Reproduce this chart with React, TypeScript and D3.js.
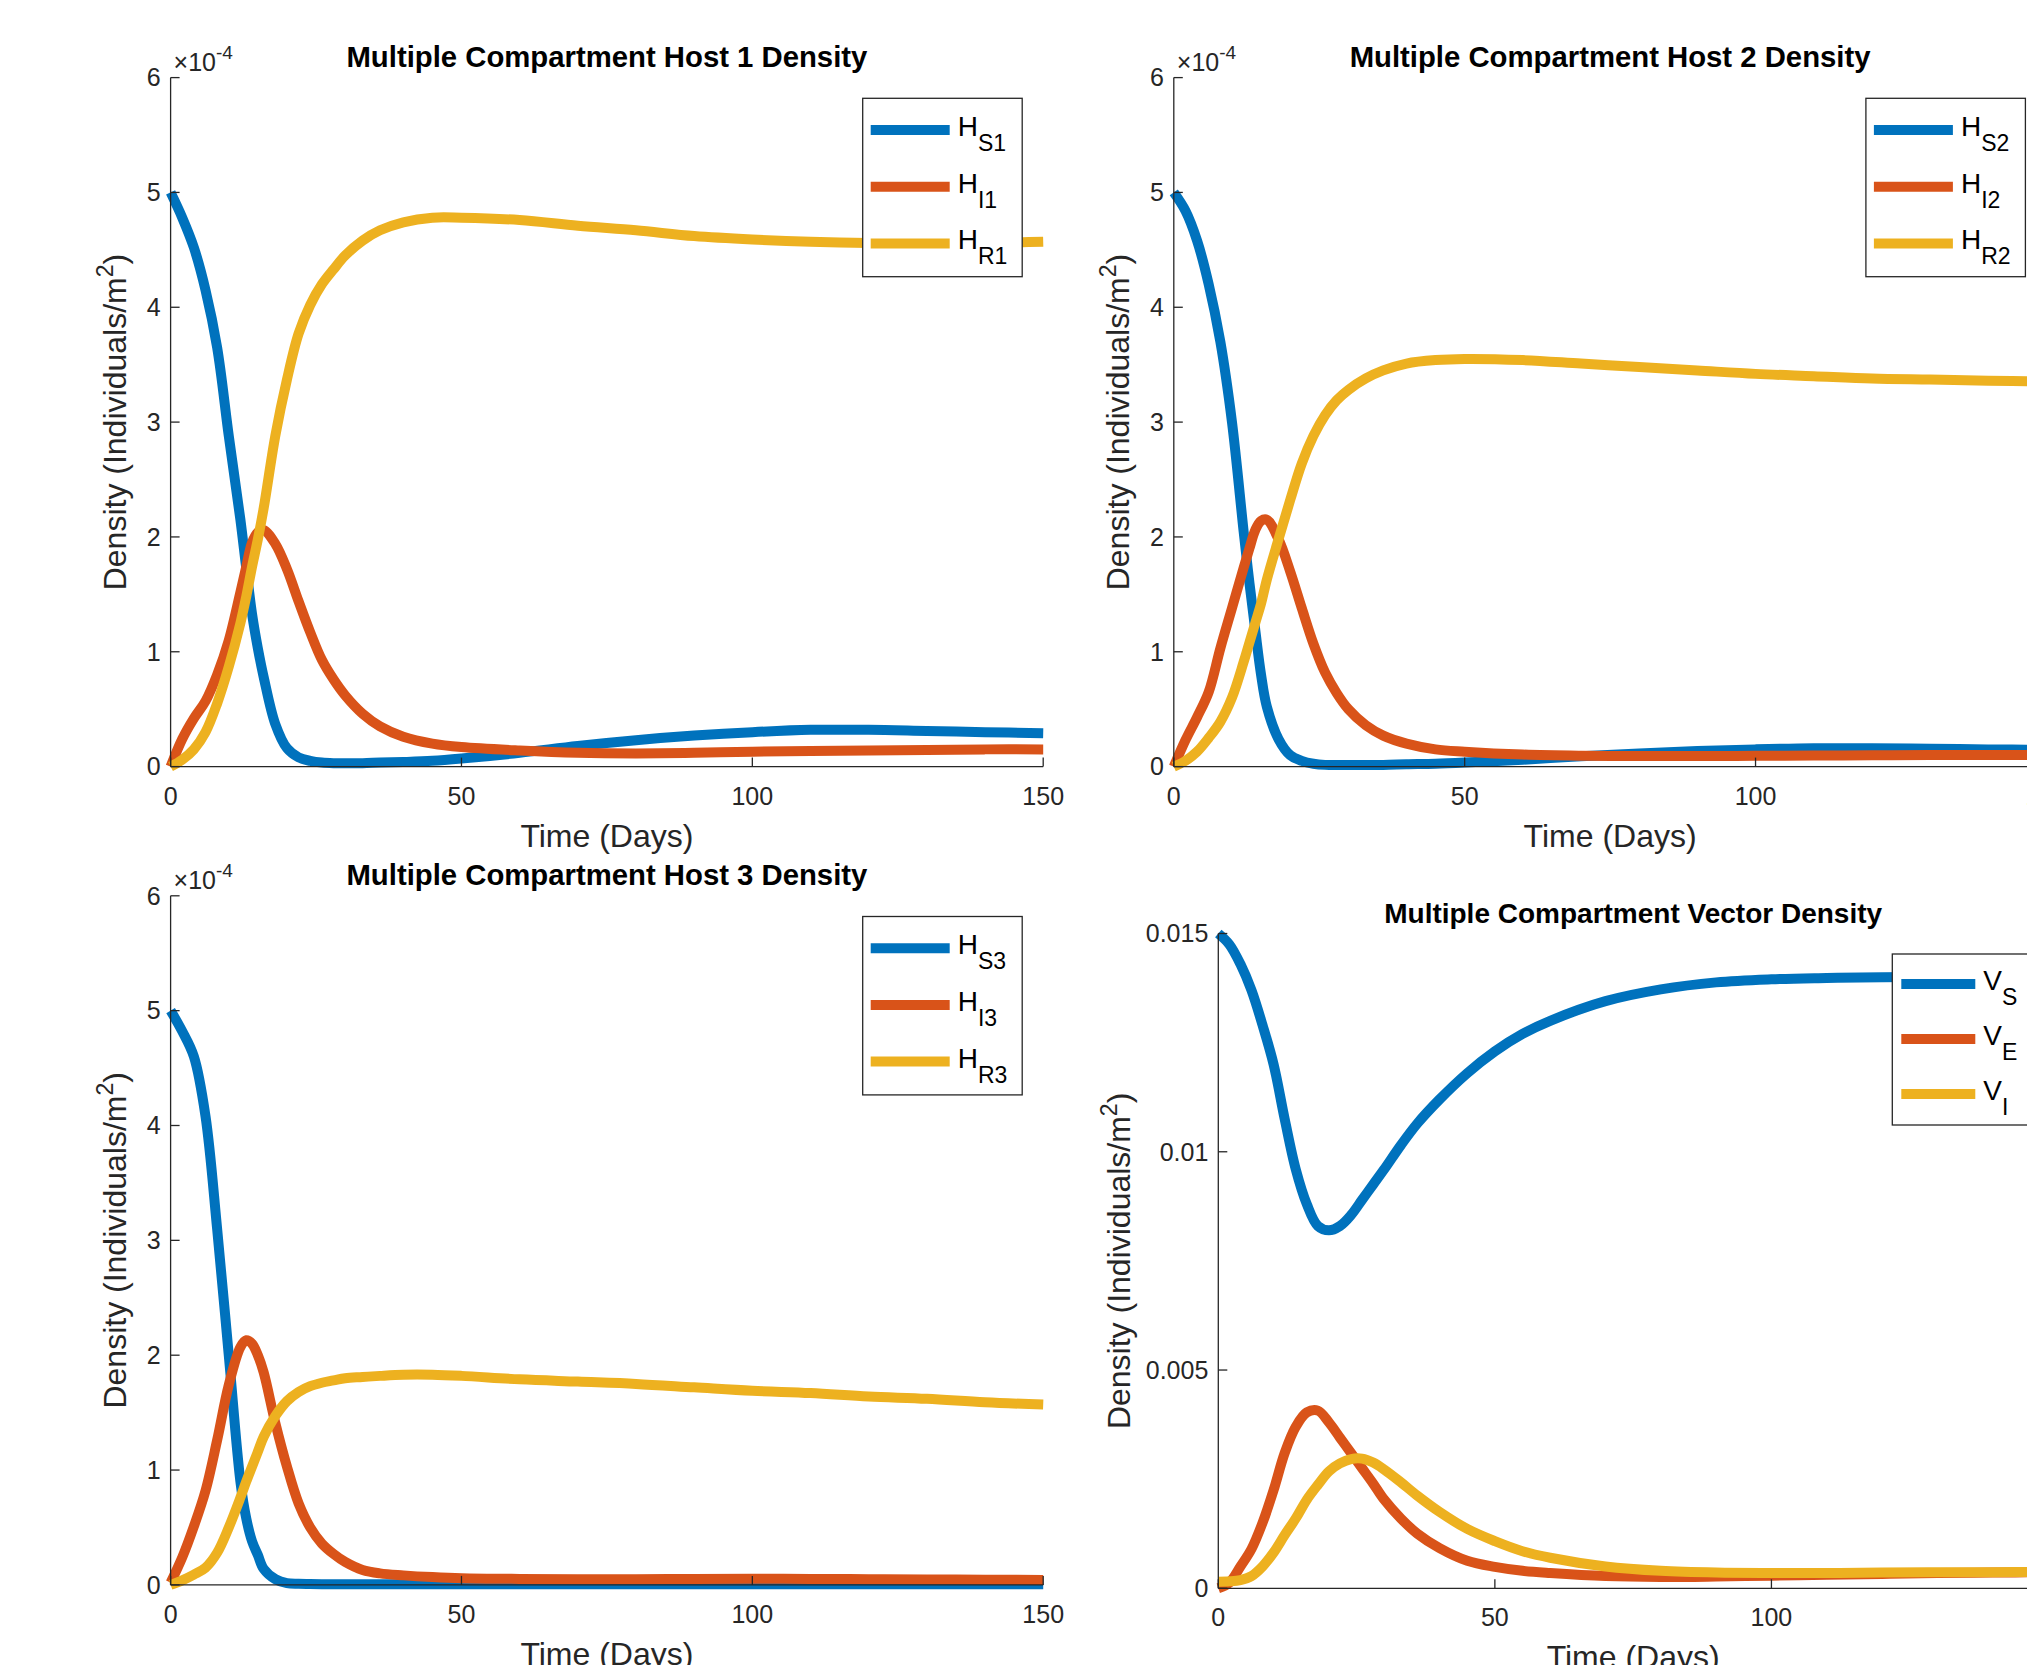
import React from 'react';
import * as d3 from 'd3';

const W = 2027;
const H = 1665;

const COLORS = ['#0072BD', '#D95319', '#EDB120'];
const AXIS = '#262626';
const FONT = '"Liberation Sans", Arial, Helvetica, sans-serif';

// time grids (days)
const hostDays = [0, 2, 4, 6, 8, 10, 12, 13, 14, 15, 16, 18, 20, 22, 24, 26, 28, 30, 33, 36, 40, 45, 50, 60, 70, 80, 90, 100, 110, 120, 130, 140, 150];
const vectorDays = [0, 2, 4, 6, 8, 10, 12, 14, 16, 18, 20, 22, 24, 26, 28, 30, 33, 36, 40, 45, 50, 55, 60, 70, 80, 90, 100, 110, 120, 130, 140, 150];

// host densities, in units of 1e-4 individuals/m^2
const hostS1 = [5.0, 4.78, 4.52, 4.15, 3.65, 2.88, 2.15, 1.73, 1.33, 1.03, 0.78, 0.37, 0.16, 0.08, 0.05, 0.035, 0.03, 0.03, 0.03, 0.035, 0.04, 0.05, 0.07, 0.12, 0.18, 0.23, 0.27, 0.3, 0.32, 0.32, 0.31, 0.3, 0.29];
const hostI1 = [0.0, 0.24, 0.42, 0.57, 0.8, 1.1, 1.52, 1.74, 1.95, 2.04, 2.06, 1.94, 1.72, 1.44, 1.17, 0.93, 0.76, 0.62, 0.46, 0.35, 0.26, 0.2, 0.17, 0.14, 0.12, 0.115, 0.12, 0.13, 0.135, 0.14, 0.145, 0.15, 0.15];
const hostR1 = [0.0, 0.06, 0.15, 0.3, 0.55, 0.87, 1.25, 1.48, 1.74, 1.98, 2.25, 2.88, 3.37, 3.77, 4.02, 4.2, 4.33, 4.45, 4.58, 4.67, 4.74, 4.78, 4.78, 4.76, 4.71, 4.67, 4.62, 4.59, 4.57, 4.56, 4.56, 4.56, 4.57];

const hostS2 = [5.0, 4.84, 4.58, 4.2, 3.7, 3.0, 2.05, 1.6, 1.19, 0.8, 0.52, 0.24, 0.1, 0.05, 0.025, 0.015, 0.015, 0.015, 0.015, 0.015, 0.02, 0.025, 0.035, 0.06, 0.09, 0.115, 0.135, 0.15, 0.16, 0.16, 0.155, 0.15, 0.145];
const hostI2 = [0.0, 0.23, 0.43, 0.65, 1.03, 1.38, 1.73, 1.9, 2.06, 2.14, 2.15, 1.98, 1.7, 1.38, 1.07, 0.82, 0.64, 0.5, 0.36, 0.27, 0.2, 0.15, 0.13, 0.105, 0.095, 0.092, 0.092, 0.094, 0.096, 0.098, 0.1, 0.1, 0.1];
const hostR2 = [0.0, 0.05, 0.13, 0.25, 0.39, 0.6, 0.91, 1.08, 1.25, 1.42, 1.63, 1.98, 2.32, 2.64, 2.88, 3.06, 3.19, 3.28, 3.38, 3.45, 3.51, 3.54, 3.55, 3.54, 3.51, 3.48, 3.45, 3.42, 3.4, 3.38, 3.37, 3.36, 3.355];

const hostS3 = [5.0, 4.82, 4.6, 4.08, 3.1, 2.0, 0.9, 0.58, 0.38, 0.26, 0.14, 0.05, 0.015, 0.01, 0.008, 0.006, 0.005, 0.005, 0.005, 0.005, 0.005, 0.005, 0.005, 0.005, 0.005, 0.005, 0.005, 0.005, 0.005, 0.005, 0.005, 0.005, 0.005];
const hostI3 = [0.02, 0.24, 0.51, 0.82, 1.26, 1.74, 2.07, 2.13, 2.1, 2.0, 1.85, 1.41, 1.03, 0.71, 0.5, 0.36, 0.27, 0.2, 0.13, 0.1, 0.083, 0.068, 0.058, 0.052, 0.05, 0.05, 0.052, 0.053, 0.052, 0.05, 0.048, 0.045, 0.043];
const hostR3 = [0.0, 0.04, 0.09, 0.15, 0.28, 0.5, 0.76, 0.9, 1.03, 1.16, 1.29, 1.47, 1.6, 1.68, 1.73, 1.76, 1.78, 1.8, 1.81, 1.82, 1.83, 1.83, 1.82, 1.79, 1.77, 1.75, 1.72, 1.69, 1.67, 1.64, 1.62, 1.59, 1.57];

// vector densities, individuals/m^2
const vectorS = [0.015, 0.01475, 0.0143, 0.0137, 0.0129, 0.012, 0.01075, 0.0096, 0.0088, 0.0083, 0.0082, 0.0083, 0.00855, 0.0089, 0.00925, 0.0096, 0.01015, 0.01065, 0.0112, 0.0118, 0.0123, 0.0127, 0.013, 0.01345, 0.01372, 0.01388, 0.01395, 0.01398, 0.014, 0.014, 0.014, 0.014];
const vectorE = [0.0, 0.00013, 0.0005, 0.0009, 0.0015, 0.00225, 0.0031, 0.0037, 0.00403, 0.00407, 0.0038, 0.00345, 0.0031, 0.00275, 0.0024, 0.00203, 0.0016, 0.00125, 0.00092, 0.00063, 0.00049, 0.0004, 0.00035, 0.00028, 0.00026, 0.00027, 0.00029, 0.00031, 0.00033, 0.00035, 0.00036, 0.00037];
const vectorI = [0.00015, 0.00016, 0.00019, 0.00028, 0.0005, 0.00082, 0.00122, 0.0016, 0.00203, 0.00237, 0.00268, 0.00286, 0.00296, 0.00297, 0.00288, 0.00272, 0.00243, 0.00212, 0.00175, 0.00136, 0.00108, 0.00085, 0.0007, 0.0005, 0.0004, 0.00036, 0.00035, 0.00035, 0.00036, 0.00037, 0.00037, 0.00038];

const xTicks = [0, 50, 100, 150];
const hostYTicks = [0, 1, 2, 3, 4, 5, 6];
const vectorYTicks = [0, 0.005, 0.01, 0.015];

type Series = { name: string; sub: string; values: number[] };

type PanelProps = {
  title: string;
  titleSize: number;
  box: { left: number; right: number; top: number; bottom: number };
  days: number[];
  series: Series[];
  yMax: number;
  yTicks: number[];
  yFormat: (v: number) => string;
  exponent?: boolean;
  ylabelX: number;
  legend: { x: number; y: number; w: number; h: number; first: number; step: number; lx0: number; lx1: number; tx: number };
};

const Panel = ({ title, titleSize, box, days, series, yMax, yTicks, yFormat, exponent, ylabelX, legend }: PanelProps) => {
  const x = d3.scaleLinear().domain([0, 150]).range([box.left, box.right]);
  const y = d3.scaleLinear().domain([0, yMax]).range([box.bottom, box.top]);
  const line = d3.line<number>()
    .x((_, i) => x(days[i]))
    .y(v => y(v))
    .curve(d3.curveCatmullRom.alpha(0.5));
  const cx = (box.left + box.right) / 2;
  const cy = (box.top + box.bottom) / 2;

  return (
    <g fontFamily={FONT}>
      {series.map((s, i) => (
        <path key={s.sub} d={line(s.values) || ''} fill="none" stroke={COLORS[i]}
          strokeWidth={10} strokeLinejoin="round" />
      ))}

      {/* axes: left and bottom only, ticks inward */}
      <line x1={box.left} x2={box.left} y1={box.top} y2={box.bottom} stroke={AXIS} strokeWidth={1.3} />
      <line x1={box.left} x2={box.right} y1={box.bottom} y2={box.bottom} stroke={AXIS} strokeWidth={1.3} />
      {xTicks.map(t => (
        <g key={t}>
          <line x1={x(t)} x2={x(t)} y1={box.bottom} y2={box.bottom - 9} stroke={AXIS} strokeWidth={1.3} />
          <text x={x(t)} y={box.bottom + 38} textAnchor="middle" fontSize={25} fill={AXIS}>{t}</text>
        </g>
      ))}
      {yTicks.map(t => (
        <g key={t}>
          <line x1={box.left} x2={box.left + 9} y1={y(t)} y2={y(t)} stroke={AXIS} strokeWidth={1.3} />
          <text x={box.left - 10} y={y(t)} dy="0.35em" textAnchor="end" fontSize={25} fill={AXIS}>{yFormat(t)}</text>
        </g>
      ))}
      {exponent && (
        <text x={box.left + 3} y={box.top - 7} fontSize={25} fill={AXIS}>
          ×10<tspan fontSize={19} dy={-12}>-4</tspan>
        </text>
      )}

      <text x={cx} y={box.top - 11} textAnchor="middle" fontSize={titleSize} fontWeight="bold" fill="#000">{title}</text>
      <text x={cx} y={box.bottom + 80} textAnchor="middle" fontSize={32} fill={AXIS}>Time (Days)</text>
      <text transform={`translate(${ylabelX},${cy}) rotate(-90)`} textAnchor="middle" fontSize={32} fill={AXIS}>
        Density (Individuals/m<tspan fontSize={23} dy={-13}>2</tspan><tspan dy={13}>)</tspan>
      </text>

      <rect x={legend.x} y={legend.y} width={legend.w} height={legend.h} fill="#fff" stroke={AXIS} strokeWidth={1.3} />
      {series.map((s, i) => {
        const ly = legend.y + legend.first + i * legend.step;
        return (
          <g key={'lg' + s.sub}>
            <line x1={legend.x + legend.lx0} x2={legend.x + legend.lx1} y1={ly} y2={ly} stroke={COLORS[i]} strokeWidth={10} />
            <text x={legend.x + legend.tx} y={ly + 6} fontSize={28} fill="#000">
              {s.name}<tspan fontSize={23} dy={15}>{s.sub}</tspan>
            </text>
          </g>
        );
      })}
    </g>
  );
};

const hostFormat = (v: number) => String(v);
const vectorFormat = (v: number) => (v === 0 ? '0' : String(+v.toFixed(3)));

const hostLegend = (right: number, top: number) => ({
  x: right - 180.5, y: top + 20.7, w: 159.5, h: 178.4, first: 31.7, step: 56.7, lx0: 8, lx1: 87, tx: 95,
});

const App = () => {
  const p1 = { left: 170.6, right: 1043.2, top: 77.6, bottom: 766.6 };
  const p2 = { left: 1173.8, right: 2046.4, top: 77.6, bottom: 766.6 };
  const p3 = { left: 170.6, right: 1043.2, top: 895.8, bottom: 1584.9 };
  const p4 = { left: 1218.3, right: 2048, top: 933.5, bottom: 1588.3 };

  return (
    <svg width={W} height={H} viewBox={`0 0 ${W} ${H}`}
      style={{ position: 'absolute', left: 0, top: 0, background: '#fff' }}>
      <rect width={W} height={H} fill="#fff" />
      <Panel
        title="Multiple Compartment Host 1 Density" titleSize={29.3} box={p1} days={hostDays}
        series={[{ name: 'H', sub: 'S1', values: hostS1 }, { name: 'H', sub: 'I1', values: hostI1 }, { name: 'H', sub: 'R1', values: hostR1 }]}
        yMax={6} yTicks={hostYTicks} yFormat={hostFormat} exponent ylabelX={p1.left - 45}
        legend={hostLegend(p1.right, p1.top)}
      />
      <Panel
        title="Multiple Compartment Host 2 Density" titleSize={29.3} box={p2} days={hostDays}
        series={[{ name: 'H', sub: 'S2', values: hostS2 }, { name: 'H', sub: 'I2', values: hostI2 }, { name: 'H', sub: 'R2', values: hostR2 }]}
        yMax={6} yTicks={hostYTicks} yFormat={hostFormat} exponent ylabelX={p2.left - 45}
        legend={hostLegend(p2.right, p2.top)}
      />
      <Panel
        title="Multiple Compartment Host 3 Density" titleSize={29.3} box={p3} days={hostDays}
        series={[{ name: 'H', sub: 'S3', values: hostS3 }, { name: 'H', sub: 'I3', values: hostI3 }, { name: 'H', sub: 'R3', values: hostR3 }]}
        yMax={6} yTicks={hostYTicks} yFormat={hostFormat} exponent ylabelX={p3.left - 45}
        legend={hostLegend(p3.right, p3.top)}
      />
      <Panel
        title="Multiple Compartment Vector Density" titleSize={28} box={p4} days={vectorDays}
        series={[{ name: 'V', sub: 'S', values: vectorS }, { name: 'V', sub: 'E', values: vectorE }, { name: 'V', sub: 'I', values: vectorI }]}
        yMax={0.015} yTicks={vectorYTicks} yFormat={vectorFormat} ylabelX={p4.left - 88}
        legend={{ x: 1892.3, y: 954, w: 160, h: 171, first: 30, step: 55, lx0: 9, lx1: 83, tx: 91 }}
      />
    </svg>
  );
};

export default App;
